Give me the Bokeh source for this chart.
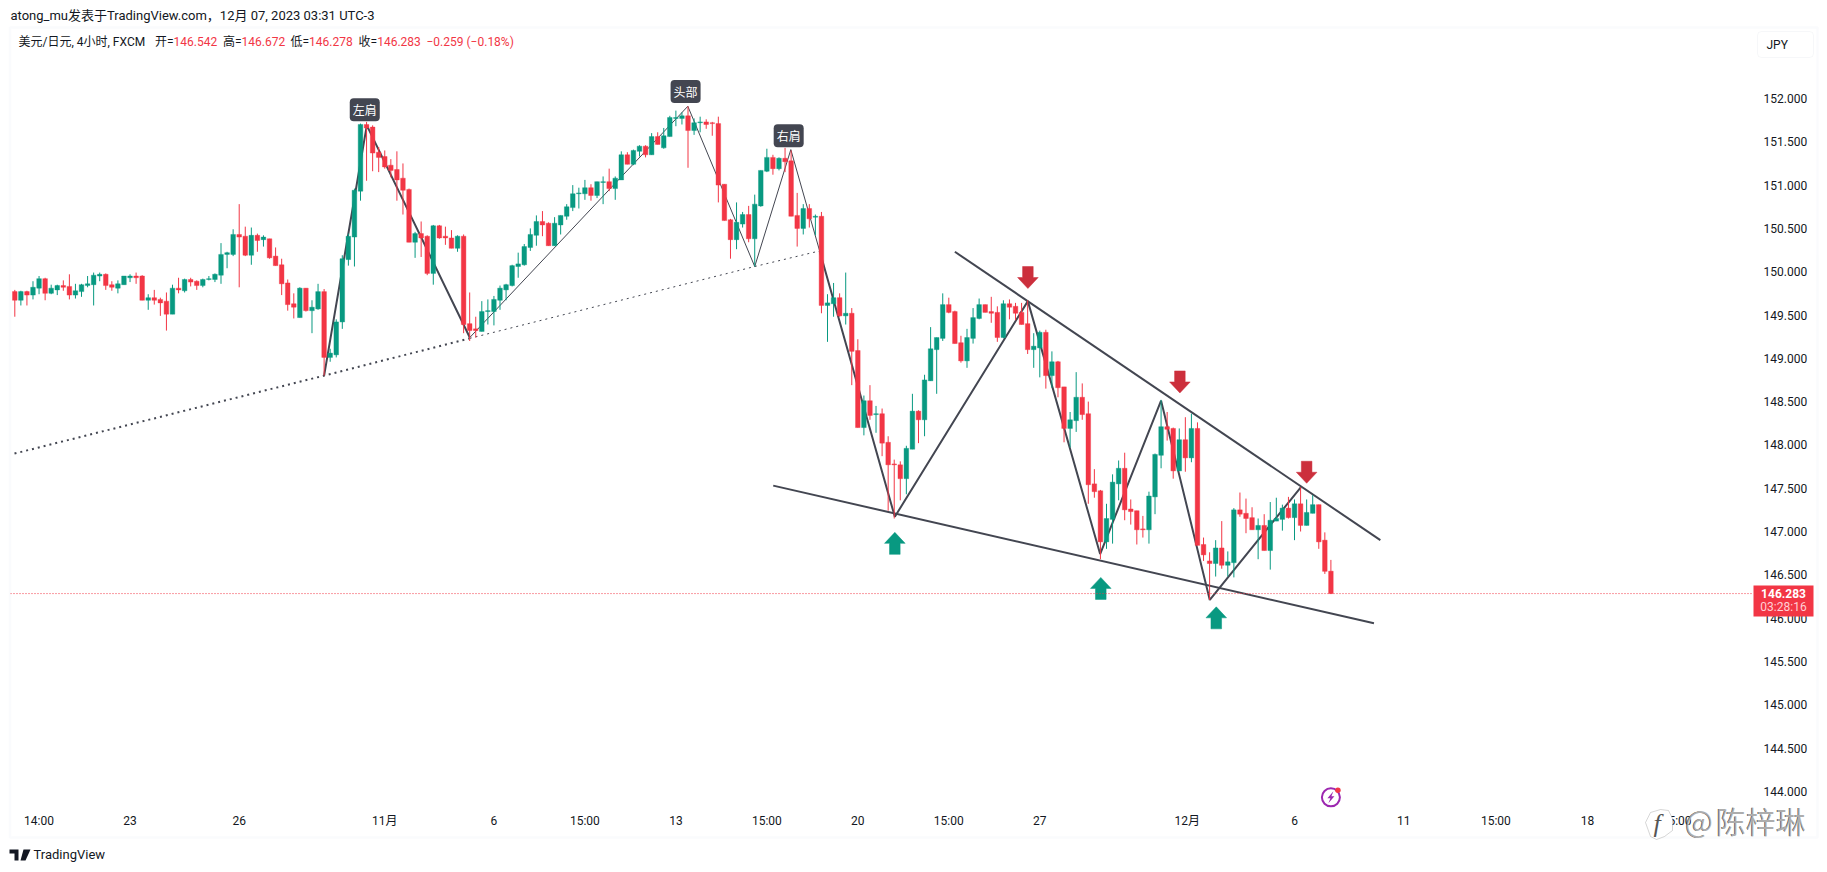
from bokeh.plotting import figure
from bokeh.embed import file_html
from bokeh.resources import INLINE
from bokeh.models import (Range1d, Label, BoxAnnotation, PolyAnnotation, FixedTicker,
                          ColumnDataSource, NumeralTickFormatter)

# ---------- data ----------
opens = [149.77,149.67,149.77,149.73,149.81,149.92,149.75,149.79,149.84,149.83,
149.73,149.77,149.84,149.85,149.95,149.97,149.85,149.81,149.85,149.93,
149.95,149.95,149.67,149.70,149.68,149.66,149.51,149.81,149.78,149.91,
149.89,149.84,149.91,149.91,149.96,150.20,150.20,150.43,150.41,150.19,
150.42,150.37,150.38,150.18,150.08,149.87,149.63,149.47,149.81,149.55,
149.57,149.77,149.01,149.04,149.42,150.14,150.40,150.93,151.70,151.67,
151.38,151.33,151.23,151.18,151.08,150.95,150.34,150.44,150.41,149.98,
150.53,150.41,150.39,150.27,150.41,149.40,149.34,149.31,149.54,149.54,
149.67,149.79,149.84,150.06,150.08,150.28,150.42,150.58,150.56,150.30,
150.54,150.64,150.74,150.90,150.90,150.97,150.88,151.03,151.04,150.96,
151.06,151.35,151.24,151.39,151.45,151.35,151.56,151.43,151.56,151.77,
151.77,151.80,151.63,151.72,151.73,151.72,151.71,151.01,150.60,150.37,
150.55,150.66,150.38,150.76,151.16,151.32,151.19,151.31,151.28,150.65,
150.50,150.73,150.63,150.64,149.61,149.63,149.70,149.49,149.52,149.09,
148.20,148.51,148.35,148.36,148.03,147.78,147.77,147.61,147.95,148.39,
148.29,148.74,149.10,149.23,149.62,149.54,149.18,148.97,149.23,149.46,
149.62,149.54,149.53,149.24,149.63,149.60,149.53,149.40,149.10,149.12,
149.30,148.80,148.96,148.67,148.19,148.28,148.55,148.36,147.55,147.47,
146.88,147.14,147.55,147.73,147.26,147.24,147.03,147.02,147.40,147.88,
148.21,148.19,147.70,148.06,147.85,148.19,146.85,146.66,146.63,146.81,
146.61,146.64,147.25,147.21,147.16,147.02,147.07,146.78,147.12,147.14,
147.27,147.16,147.32,147.07,147.21,147.31,146.90,146.542]

closes = [149.67,149.77,149.73,149.82,149.92,149.75,149.81,149.84,149.82,149.73,
149.78,149.85,149.86,149.96,149.97,149.84,149.82,149.86,149.95,149.95,
149.93,149.67,149.70,149.67,149.64,149.51,149.81,149.79,149.91,149.88,
149.84,149.91,149.92,149.97,150.20,150.22,150.43,150.40,150.19,150.42,
150.36,150.40,150.16,150.07,149.86,149.62,149.59,149.81,149.55,149.59,
149.77,149.01,149.06,149.42,150.15,150.41,150.94,151.70,151.66,151.37,
151.32,151.21,151.17,151.06,150.94,150.34,150.44,150.39,149.98,150.53,
150.39,150.39,150.27,150.41,149.39,149.32,149.32,149.54,149.55,149.68,
149.81,149.85,150.07,150.09,150.29,150.43,150.58,150.54,150.30,150.56,
150.65,150.75,150.90,150.91,150.97,150.88,151.04,151.04,150.96,151.08,
151.35,151.24,151.40,151.45,151.35,151.56,151.47,151.57,151.78,151.78,
151.80,151.63,151.72,151.73,151.70,151.71,151.00,150.59,150.37,150.57,
150.66,150.38,150.78,151.17,151.32,151.19,151.31,151.27,150.64,150.50,
150.73,150.61,150.64,149.61,149.64,149.70,149.49,149.52,149.08,148.20,
148.51,148.34,148.36,148.02,147.77,147.77,147.61,147.96,148.39,148.29,
148.75,149.11,149.24,149.62,149.53,149.17,148.97,149.24,149.47,149.62,
149.53,149.52,149.24,149.63,149.59,149.52,149.39,149.10,149.14,149.30,
148.80,148.96,148.66,148.19,148.29,148.55,148.35,147.54,147.46,146.88,
147.15,147.57,147.73,147.25,147.23,147.02,147.02,147.41,147.89,148.21,
148.18,147.70,148.06,147.85,148.19,146.84,146.73,146.63,146.81,146.61,
146.65,147.25,147.20,147.15,147.02,147.07,146.78,147.13,147.15,147.27,
147.16,147.32,147.07,147.22,147.31,146.88,146.54,146.283]

highs = [149.79,149.78,149.78,149.89,149.95,149.93,149.85,149.85,149.90,149.97,
149.86,149.86,149.95,149.99,149.99,149.98,149.89,149.90,149.95,149.97,
149.99,149.96,149.74,149.79,149.70,149.76,149.85,149.93,149.92,149.93,
149.90,149.92,149.95,149.98,150.33,150.23,150.49,150.78,150.52,150.51,
150.44,150.42,150.38,150.28,150.15,149.91,149.75,149.82,149.81,149.67,
149.86,149.80,149.11,149.45,150.19,150.44,150.96,151.71,151.73,151.69,
151.44,151.40,151.30,151.39,151.25,150.96,150.46,150.58,150.42,150.54,
150.54,150.52,150.48,150.42,150.43,149.76,149.48,149.66,149.68,149.72,
149.84,149.86,150.08,150.22,150.32,150.50,150.65,150.70,150.57,150.63,
150.65,150.78,151.00,150.97,151.06,151.01,151.04,151.10,151.19,151.10,
151.39,151.38,151.41,151.46,151.46,151.60,151.61,151.66,151.80,151.86,
151.84,151.91,151.77,151.79,151.76,151.73,151.79,151.01,150.61,150.80,
150.69,150.76,150.89,151.17,151.42,151.35,151.32,151.43,151.40,150.91,
150.78,150.78,150.66,150.69,149.74,149.87,149.75,149.99,149.58,149.22,
148.57,148.69,148.45,148.42,148.10,147.83,147.81,147.99,148.59,148.40,
148.81,149.36,149.24,149.75,149.70,149.55,149.26,149.34,149.58,149.69,
149.62,149.71,149.60,149.67,149.68,149.64,149.64,149.67,149.29,149.32,
149.33,149.08,148.97,148.67,148.38,148.84,148.71,148.50,147.72,147.48,
147.32,147.66,147.82,147.91,147.37,147.24,147.18,147.46,147.90,148.52,
148.38,148.20,148.19,148.32,148.36,148.26,146.93,146.76,146.90,147.12,
146.77,147.27,147.45,147.38,147.28,147.15,147.20,147.34,147.39,147.31,
147.40,147.37,147.51,147.37,147.42,147.31,146.99,146.672]

lows = [149.48,149.61,149.61,149.68,149.74,149.67,149.74,149.73,149.78,149.68,
149.69,149.71,149.82,149.61,149.89,149.79,149.78,149.75,149.85,149.88,
149.86,149.67,149.56,149.62,149.49,149.32,149.51,149.75,149.76,149.83,
149.79,149.82,149.90,149.88,149.86,150.04,150.18,149.82,150.18,150.08,
150.23,150.29,150.15,150.07,149.73,149.55,149.46,149.47,149.54,149.29,
149.56,148.80,148.96,149.01,149.34,150.07,150.06,150.82,151.05,151.16,
151.15,151.19,151.09,150.82,150.66,150.34,150.16,150.17,149.96,149.85,
150.38,150.31,150.27,150.23,149.29,149.20,149.24,149.31,149.39,149.38,
149.56,149.67,149.83,149.93,150.07,150.24,150.30,150.41,150.30,150.30,
150.43,150.60,150.70,150.73,150.83,150.82,150.85,150.78,150.93,150.83,
151.06,151.24,151.23,151.33,151.32,151.35,151.47,151.42,151.56,151.68,
151.70,151.20,151.58,151.61,151.65,151.57,150.80,150.59,150.15,150.26,
150.51,150.34,150.06,150.75,151.15,151.12,151.17,151.15,150.64,150.29,
150.43,150.51,150.42,149.52,149.19,149.48,149.48,149.39,148.69,148.20,
148.11,148.29,148.14,147.87,147.24,147.15,147.36,147.43,147.95,148.02,
148.10,148.74,148.59,149.20,149.52,149.17,148.95,148.89,149.17,149.45,
149.53,149.41,149.19,149.23,149.45,149.44,149.39,149.05,148.89,148.78,
148.65,148.66,148.55,148.03,147.97,148.15,148.29,147.32,147.39,146.68,
146.80,146.86,147.36,147.13,147.08,146.85,146.93,146.86,147.20,147.73,
148.05,147.61,147.70,147.69,147.80,146.84,146.66,146.21,146.48,146.57,
146.48,146.47,147.17,146.98,147.02,146.68,146.78,146.56,147.12,147.01,
147.15,146.90,147.00,147.07,147.21,146.80,146.51,146.278]

last_price = 146.283
price_ticks = [152, 151.5, 151, 150.5, 150, 149.5, 149, 148.5, 148, 147.5, 147, 146.5, 146, 145.5, 145, 144.5, 144]
time_tick_bars = [4, 19, 37, 61, 79, 94, 109, 124, 139, 154, 169, 193.3, 211, 229, 244.2, 259.3, 274]
time_tick_labels = ["14:00", "23", "26", "11月", "6", "15:00", "13", "15:00", "20", "15:00", "27", "12月", "6", "11", "15:00", "18", "15:00"]

# drawings (bar index, price)
neck_x1, neck_y1 = [-0.05, 51, 75], [147.90, 148.80, 149.23]
neck_x2, neck_y2 = [75, 122, 132.7], [149.23, 150.06, 150.24]
zig_thick_x1, zig_thick_y1 = [51, 58.04, 75.02], [148.80, 151.69, 149.24]
zig_thin_x, zig_thin_y = [75.02, 110.97, 122, 127.95, 132.7], [149.24, 151.91, 150.06, 151.41, 150.24]
zig_thick_x2 = [132.7, 145.1, 167.03, 178.95, 189.0, 197.03, 212.03]
zig_thick_y2 = [150.24, 147.17, 149.66, 146.74, 148.51, 146.21, 147.51]
upper_x, upper_y = [155.0, 225.15], [150.23, 146.90]
lower_x, lower_y = [125.05, 224.1], [147.53, 145.94]

red_arrow_x, red_arrow_tip = [167.04, 192.1, 213.0], [149.806, 148.60, 147.557]
green_arrow_x, green_arrow_tip = [145.1, 179.06, 198.1], [146.99, 146.47, 146.13]

pattern_names = ["左肩", "头部", "右肩"]
pattern_x = [57.7, 110.6, 127.6]
pattern_y = [151.87, 152.08, 151.57]

header_items = [("美元/日元, 4小时, FXCM", 18, "#131722"), ("开=", 154.5, "#131722"), ("146.542", 173, "#f23645"),
                ("高=", 222.6, "#131722"), ("146.672", 241, "#f23645"), ("低=", 290, "#131722"),
                ("146.278", 308.6, "#f23645"), ("收=", 358, "#131722"), ("146.283", 376.7, "#f23645"),
                ("−0.259", 426, "#f23645"), ("(−0.18%)", 466, "#f23645")]

# ---------- layout constants (page px) ----------
W, H = 1820, 864
PANE_L, PANE_R = 10.0, 1748.0
X_AXIS_Y = 799.0
PX_BAR, X0 = 6.065, 14.3
PX_UNIT, Y152 = 86.6, 98.0
UP, DOWN, INK = "#089981", "#f23645", "#434651"
FONT = "Roboto, 'Noto Sans CJK SC', sans-serif"
CJK = "'Noto Sans CJK SC', Roboto, sans-serif"

def bar_at(X): return (X - X0) / PX_BAR
def price_at(Y): return 152 - (Y - Y152) / PX_UNIT

p = figure(width=W, height=H, output_backend="svg", toolbar_location=None,
           x_range=Range1d(bar_at(0), bar_at(W)),
           y_range=Range1d(price_at(H), price_at(0)),
           x_axis_location="below", y_axis_location="right",
           min_border_left=0, min_border_right=0, min_border_top=0, min_border_bottom=0,
           outline_line_color=None, background_fill_color="white", border_fill_color="white")
p.grid.visible = False

yax = p.yaxis[0]
xax = p.xaxis[0]
yax.fixed_location = bar_at(PANE_R)
xax.fixed_location = price_at(X_AXIS_Y)
yax.ticker = FixedTicker(ticks=price_ticks)
yax.formatter = NumeralTickFormatter(format="0.000")
yax.major_label_standoff = 9
xax.ticker = FixedTicker(ticks=time_tick_bars)
xax.major_label_overrides = {k: v for k, v in zip(time_tick_bars, time_tick_labels)}
xax.major_label_standoff = 8
for ax in (xax, yax):
    ax.axis_line_color = None
    ax.major_tick_line_color = None
    ax.minor_tick_line_color = None
    ax.major_label_text_font = FONT
    ax.major_label_text_font_size = "12px"
    ax.major_label_text_color = "#131722"

# ---------- drawings below the candles ----------
p.line(neck_x1, neck_y1, line_color=INK, line_width=2, line_dash="2 4")
p.line(neck_x2, neck_y2, line_color=INK, line_width=1, line_dash="2 4")
p.line(zig_thick_x1, zig_thick_y1, line_color=INK, line_width=2)
p.line(zig_thin_x, zig_thin_y, line_color=INK, line_width=1)
p.line(zig_thick_x2, zig_thick_y2, line_color=INK, line_width=2)
p.line(upper_x, upper_y, line_color=INK, line_width=2)
p.line(lower_x, lower_y, line_color=INK, line_width=2)

# ---------- candles ----------
bars = list(range(len(opens)))
colors = [UP if c >= o else DOWN for o, c in zip(opens, closes)]
src = ColumnDataSource(dict(x=bars, o=opens, c=closes, h=highs, l=lows, col=colors))
p.segment("x", "h", "x", "l", source=src, line_color="col", line_width=1)
p.vbar("x", 0.76, "o", "c", source=src, fill_color="col", line_color="col", line_width=0.4)

# ---------- arrows ----------
def arrow(x_bar, tip, direction, color):
    hw, sw, head, total = 10.3 / PX_BAR, 5.3 / PX_BAR, 11.0 / PX_UNIT, 22.0 / PX_UNIT
    d = direction
    xs = [x_bar, x_bar + hw, x_bar + sw, x_bar + sw, x_bar - sw, x_bar - sw, x_bar - hw]
    ys = [tip, tip - d * head, tip - d * head, tip - d * total, tip - d * total, tip - d * head, tip - d * head]
    p.patch(xs, ys, fill_color=color, line_color=color, line_width=0.5)

for bx, tip in zip(red_arrow_x, red_arrow_tip):
    arrow(bx, tip, -1, "#cc2f3c")
for bx, tip in zip(green_arrow_x, green_arrow_tip):
    arrow(bx, tip, 1, UP)

# ---------- last price line ----------
p.line([bar_at(PANE_L), bar_at(1753)], [last_price, last_price], line_color=DOWN, line_width=1, line_dash="1 2")

# ---------- bolt icon ----------
icon_x, icon_y = 217.0, 143.93
p.scatter([icon_x], [icon_y], marker="circle", size=18, fill_color=None, line_color="#9c27b0", line_width=2)
bolt_dx = [2.5, -3.5, -0.5, -2.5, 3.5, 0.5]
bolt_dy = [6, -1, -1, -6, 1, 1]
p.patch([icon_x + d / PX_BAR for d in bolt_dx], [icon_y + d / PX_UNIT for d in bolt_dy],
        fill_color="#9c27b0", line_color=None)
p.scatter([icon_x + 7 / PX_BAR], [icon_y + 7.2 / PX_UNIT], marker="circle", size=5.5, fill_color=DOWN, line_color=None)

# ---------- helpers in page coordinates ----------
LEVEL = "annotation"
def sx(X): return X
def sy(Y): return H - Y

def text(s, X, Y, color="#131722", size="12px", font=FONT, align="left", style="normal", alpha=1.0):
    p.add_layout(Label(x=sx(X), y=sy(Y), x_units="screen", y_units="screen", text=s, text_color=color,
                       text_font=font, text_font_size=size, text_align=align, text_baseline="middle",
                       text_font_style=style, text_alpha=alpha, level=LEVEL))

def box(L, R, T, B, fill, line=None, lw=0, radius=0, fa=1.0):
    p.add_layout(BoxAnnotation(left=sx(L), right=sx(R), top=sy(T), bottom=sy(B),
                               left_units="screen", right_units="screen", top_units="screen", bottom_units="screen",
                               fill_color=fill, fill_alpha=fa, line_color=line, line_width=lw,
                               border_radius=radius, level=LEVEL, editable=False))

def poly(Xs, Ys, fill, line=None, lw=0, fa=1.0):
    p.add_layout(PolyAnnotation(xs=[sx(v) for v in Xs], ys=[sy(v) for v in Ys], xs_units="screen", ys_units="screen",
                                fill_color=fill, fill_alpha=fa, line_color=line, line_width=lw, level=LEVEL))

# outer border
box(9.5, 1817, 27, 837, None, "#f0f3fa", 2.5, fa=0.0)

# header texts
text("atong_mu发表于TradingView.com，12月 07, 2023 03:31 UTC-3", 10, 15, size="13px")
for s, X, col in header_items:
    text(s, X, 41, color=col, size="12px")

# JPY button
box(1757, 1813, 31, 57, "white", "#e0e3eb", 1, radius=4)
text("JPY", 1766, 44.5, size="12px")

# pattern labels
for name, bx, py in zip(pattern_names, pattern_x, pattern_y):
    p.add_layout(Label(x=bx, y=py, text=name, text_color="#ffffff", text_font=CJK, text_font_size="12px",
                       text_align="center", text_baseline="middle", background_fill_color=INK,
                       padding=3, border_radius=4, level=LEVEL))

# price tag
box(1753, 1813, 585, 616, DOWN)
text(f"{last_price:.3f}", 1783, 593, color="#ffffff", align="center", style="bold")
text("03:28:16", 1783, 606.5, color="#ffd0d5", align="center")

# watermark
poly([1650, 1660, 1668, 1672, 1672, 1664, 1656, 1650, 1645], [812, 809, 810, 818, 830, 836, 839, 836, 822],
     "#ffffff", "#777777", 1)
text("f", 1653, 823, color="#555555", size="26px", font="Liberation Serif", style="italic")
text("@", 1684, 819, color="#333333", size="30px", font=CJK, alpha=0.85)
text("陈梓琳", 1715, 819, color="#333333", size="30px", font=CJK, alpha=0.85)
text("@", 1684.7, 819.7, color="#ffffff", size="30px", font=CJK, alpha=0.55)
text("陈梓琳", 1715.7, 819.7, color="#ffffff", size="30px", font=CJK, alpha=0.55)

# TradingView footer
poly([9, 18, 18, 14, 14, 9], [849, 849, 860, 860, 853, 853], "#131722")
poly([23, 30, 25, 20], [849, 849, 860, 860], "#131722")
text("TradingView", 33, 854, size="13px")

open("out.html", "w").write(file_html(p, INLINE))
